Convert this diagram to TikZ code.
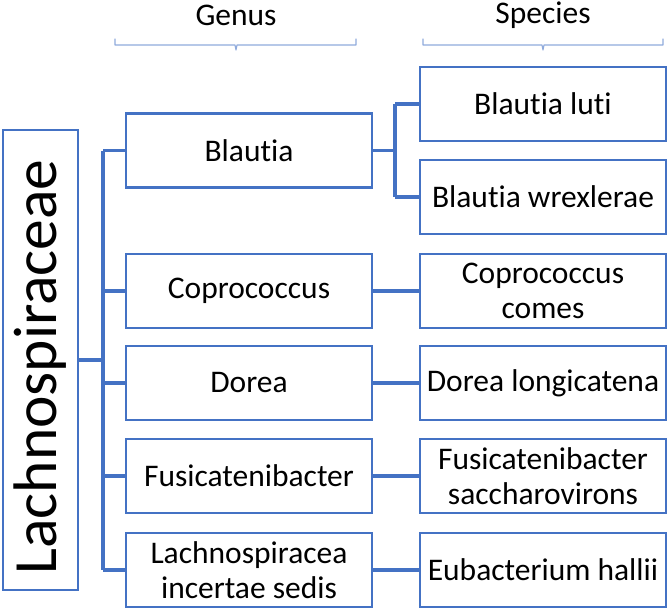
\documentclass[tikz,border=0pt]{standalone}
\usepackage{fontspec}
\setmainfont{Carlito}[Ligatures=NoCommon]
\definecolor{boxblue}{HTML}{4472C4}
\definecolor{bracecol}{HTML}{8FAADC}
\begin{document}
\begin{tikzpicture}[x=1pt,y=-1pt,
  box/.style={draw=boxblue,line width=2.4pt,fill=white,rectangle,minimum width=246pt,minimum height=74pt,inner sep=0pt,align=center,font=\fontsize{31.5}{35}\selectfont,text=black},
  conn/.style={draw=boxblue,line width=3.6pt},
  hdr/.style={font=\fontsize{31.5}{35}\selectfont,text=black,inner sep=0pt},
  brace/.style={draw=bracecol,line width=1.1pt,line cap=round,line join=round}]
\useasboundingbox (0,0) rectangle (669,610);
% main family box
\node[draw=boxblue,line width=2.4pt,minimum width=75pt,minimum height=460pt,inner sep=0pt] (main) at (40.5,360) {};
\node[rotate=90,font=\fontsize{61.5}{70}\selectfont,inner sep=0pt] (maintxt) at ([yshift=-7pt]main.center) {Lachnospiraceae};
% genus boxes
\node[box] (g1) at (249,150.5) {Blautia};
\node[box] (g2) at (249,291) {Coprococcus};
\node[box] (g3) at (249,383) {Dorea};
\node[box] (g4) at (249,476) {Fusicatenibacter};
\node[box] (g5) at (249,570) {Lachnospiracea\\incertae sedis};
% species boxes
\node[box] (s1) at (543,104) {Blautia luti};
\node[box] (s2) at (543,197) {Blautia wrexlerae};
\node[box] (s3) at (543,291) {Coprococcus\\comes};
\node[box] (s4) at (543,383) {Dorea longicatena};
\node[box] (s5) at (543,476) {Fusicatenibacter\\saccharovirons};
\node[box] (s6) at (543,570) {Eubacterium hallii};
% headers
\node[hdr] (hg) at (236,15) {Genus};
\node[hdr] (hs) at (543,15) {Species};
% braces
\coordinate (bg) at (236,45);
\coordinate (bs) at (543,45);
\draw[brace] ([xshift=-121pt,yshift=6pt]bg) -- ([xshift=-121pt]bg) -- ([xshift=-1pt]bg) -- ([yshift=-5pt]bg) -- ([xshift=1pt]bg) -- ([xshift=120pt]bg) -- ([xshift=120pt,yshift=6pt]bg);
\draw[brace] ([xshift=-120pt,yshift=6pt]bs) -- ([xshift=-120pt]bs) -- ([xshift=-1pt]bs) -- ([yshift=-5pt]bs) -- ([xshift=1pt]bs) -- ([xshift=120pt]bs) -- ([xshift=120pt,yshift=6pt]bs);
% connectors
\coordinate (trunk) at (103,0);
\coordinate (strunk) at (395,0);
\draw[conn] (main.east) -- (main.east -| trunk);
\draw[conn] (g1.west -| trunk) -- (g5.west -| trunk);
\foreach \g in {g1,g2,g3,g4,g5} \draw[conn] (\g.west) -- (\g.west -| trunk);
\draw[conn] (g1.east) -- (g1.east -| strunk);
\draw[conn] (s1.west -| strunk) -- (s2.west -| strunk);
\draw[conn] (s1.west) -- (s1.west -| strunk);
\draw[conn] (s2.west) -- (s2.west -| strunk);
\draw[conn] (g2.east) -- (s3.west);
\draw[conn] (g3.east) -- (s4.west);
\draw[conn] (g4.east) -- (s5.west);
\draw[conn] (g5.east) -- (s6.west);
\end{tikzpicture}
\end{document}
